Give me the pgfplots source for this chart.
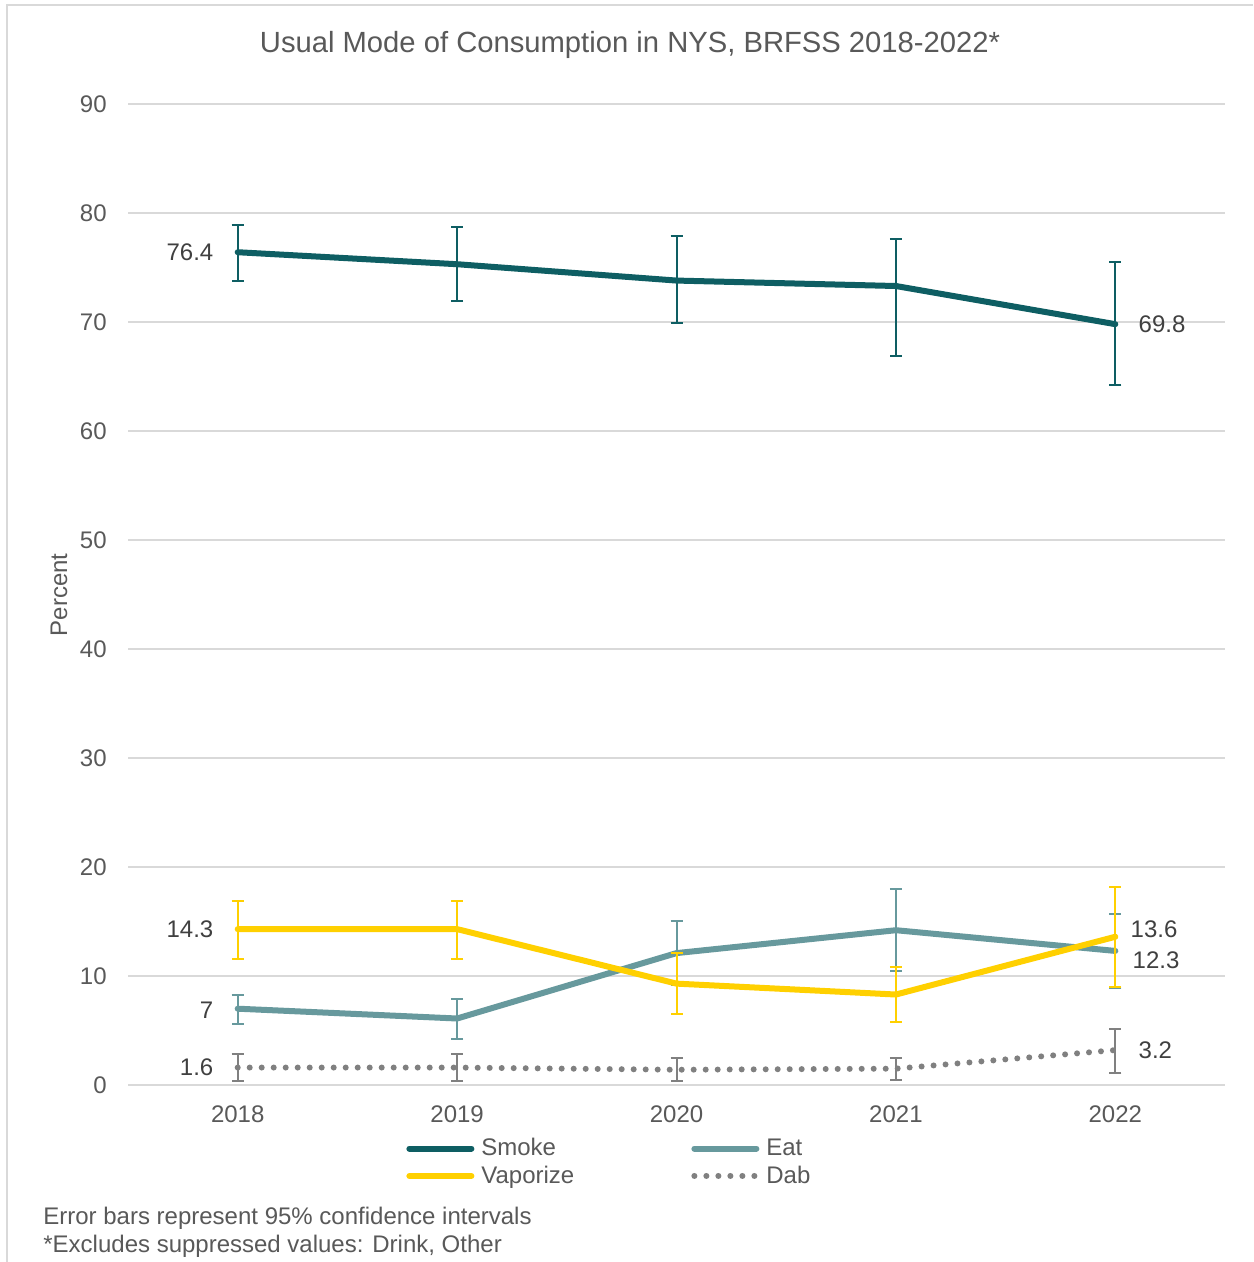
\documentclass[border=0pt]{standalone}
\usepackage{fontspec}
\setmainfont{Liberation Sans}
\usepackage{pgfplots}
\pgfplotsset{compat=1.18}

\definecolor{smoke}{HTML}{0E5E63}
\definecolor{eat}{HTML}{67999D}
\definecolor{vape}{HTML}{FFD000}
\definecolor{dab}{HTML}{808080}
\definecolor{gridc}{HTML}{D9D9D9}
\definecolor{txt}{HTML}{595959}
\definecolor{lbl}{HTML}{404040}

\tikzset{
  lab/.style={text=lbl, inner sep=0pt, font=\fontsize{12}{14}\selectfont},
}
\pgfplotsset{
  ci/.style={
    error bars/.cd,
      y dir=both, y explicit,
      error bar style={line width=1pt, solid, line cap=butt, #1},
      error mark options={rotate=90, mark size=3pt, line width=1pt, solid, line cap=butt, #1},
  },
}

\begin{document}
\begin{tikzpicture}[x=1pt,y=1pt]
\path[use as bounding box] (0,0) rectangle (626.5,631);
\fill[white] (0,0) rectangle (626.5,631);
% chart frame (top and left edges)
\draw[gridc, line width=0.75pt] (3.5,0) -- (3.5,628.5) -- (626.5,628.5);

\node[text=txt, font=\fontsize{14.6}{17}\selectfont, anchor=base, inner sep=0pt] at (315,604.5)
  {Usual Mode of Consumption in NYS, BRFSS 2018-2022*};
\node[text=txt, font=\fontsize{12}{14}\selectfont, rotate=90, inner sep=0pt] at (29.5,333.5) {Percent};

\node[text=txt, font=\fontsize{12}{14}\selectfont, anchor=base west, inner sep=0pt] at (21.5,18.75)
  {Error bars represent 95\% confidence intervals};
\node[text=txt, font=\fontsize{12}{14}\selectfont, anchor=base west, inner sep=0pt] at (21.5,5)
  {*Excludes suppressed values: Drink, Other};

\begin{axis}[
  at={(64pt,88.5pt)}, anchor=south west,
  scale only axis, width=548.5pt, height=490.5pt,
  xmin=-0.5, xmax=4.5, ymin=0, ymax=90,
  xtick={0,1,2,3,4}, xticklabels={2018,2019,2020,2021,2022},
  ytick={0,10,...,90},
  axis line style={draw=none},
  major tick length=0pt,
  ymajorgrids, grid style={gridc, line width=0.75pt},
  tick label style={font=\fontsize{12}{14}\selectfont, text=txt},
  /pgf/number format/assume math mode=true,
  yticklabel style={anchor=east, inner sep=0pt, xshift=-10.5pt},
  xticklabel style={anchor=north, inner sep=0pt, yshift=-10pt},
  clip=false,
  legend columns=2,
  legend cell align=left,
  legend style={at={(axis description cs:0.2534,-0.054)}, anchor=north west,
    draw=none, fill=none, inner sep=0pt, column sep=3.5pt, row sep=3.5pt,
    font=\fontsize{12}{14}\selectfont, text=txt,
    nodes={inner sep=0pt, text width=101.5pt, align=left}},
  legend image code/.code={\draw[#1] (0pt,0pt) -- (31pt,0pt);},
]

% Smoke
\addplot[smoke, line width=3pt, line join=round, line cap=round, ci=smoke] coordinates {
  (0,76.4) += (0,2.5) -= (0,2.6)
  (1,75.3) += (0,3.4) -= (0,3.4)
  (2,73.8) += (0,4.1) -= (0,3.9)
  (3,73.3) += (0,4.3) -= (0,6.4)
  (4,69.8) += (0,5.7) -= (0,5.6)
};
\addlegendentry{Smoke}

% Eat
\addplot[eat, line width=3pt, line join=round, line cap=round, ci=eat] coordinates {
  (0,7.0)  += (0,1.3) -= (0,1.4)
  (1,6.1)  += (0,1.8) -= (0,1.9)
  (2,12.1) += (0,2.9) -= (0,2.9)
  (3,14.2) += (0,3.8) -= (0,3.7)
  (4,12.3) += (0,3.4) -= (0,3.4)
};
\addlegendentry{Eat}

% Vaporize
\addplot[vape, line width=3pt, line join=round, line cap=round, ci=vape] coordinates {
  (0,14.3) += (0,2.6) -= (0,2.7)
  (1,14.3) += (0,2.6) -= (0,2.7)
  (2,9.3)  += (0,2.8) -= (0,2.8)
  (3,8.3)  += (0,2.5) -= (0,2.5)
  (4,13.6) += (0,4.6) -= (0,4.6)
};
\addlegendentry{Vaporize}

% Dab
\addplot[dab, line width=3pt, line cap=round, dash pattern=on 0pt off 6pt, ci=dab] coordinates {
  (0,1.6) += (0,1.2) -= (0,1.2)
  (1,1.6) += (0,1.2) -= (0,1.2)
  (2,1.4) += (0,1.1) -= (0,1.0)
  (3,1.5) += (0,1.0) -= (0,1.0)
  (4,3.2) += (0,1.9) -= (0,2.1)
};
\addlegendentry{Dab}

% value labels
\node[lab, anchor=east, xshift=-12pt] at (axis cs:0,76.4) {76.4};
\node[lab, anchor=west, xshift=11.5pt] at (axis cs:4,69.8) {69.8};
\node[lab, anchor=east, xshift=-12pt] at (axis cs:0,14.3) {14.3};
\node[lab, anchor=east, xshift=-12pt, yshift=-0.6pt] at (axis cs:0,7.0) {7};
\node[lab, anchor=east, xshift=-12pt] at (axis cs:0,1.6) {1.6};
\node[lab, anchor=west, xshift=7.5pt, yshift=3.9pt] at (axis cs:4,13.6) {13.6};
\node[lab, anchor=west, xshift=8.5pt, yshift=-4.5pt] at (axis cs:4,12.3) {12.3};
\node[lab, anchor=west, xshift=11.5pt] at (axis cs:4,3.2) {3.2};
\end{axis}
\end{tikzpicture}
\end{document}
